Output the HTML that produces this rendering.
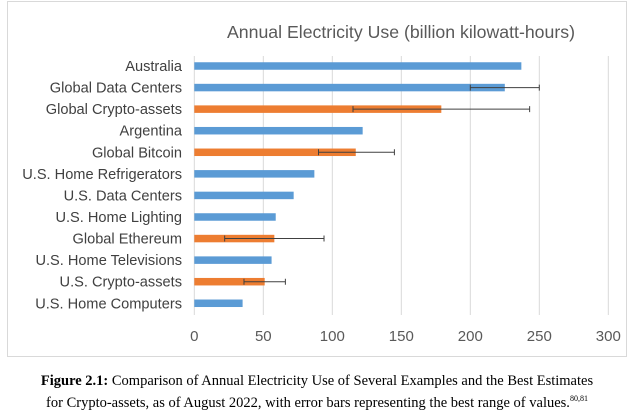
<!DOCTYPE html>
<html><head><meta charset="utf-8"><style>
body{margin:0;background:#fff;width:634px;height:417px;overflow:hidden;font-family:"Liberation Sans",sans-serif}
#frame{position:absolute;left:7px;top:1px;width:620px;height:356px;border:1px solid #d9d9d9;box-sizing:border-box}
#cap{position:absolute;left:0;top:372px;width:634px;text-align:center;font-family:"Liberation Serif",serif;font-size:14.5px;line-height:18px;color:#000}
sup{font-size:8px}
</style></head><body>
<div id="frame"></div>
<svg id="chart" width="634" height="360" style="position:absolute;left:0;top:0">
<text x="401" y="38" text-anchor="middle" font-size="17.7" fill="#595959">Annual Electricity Use (billion kilowatt-hours)</text>
</svg>
<div id="cap"><b>Figure 2.1:</b> Comparison of Annual Electricity Use of Several Examples and the Best Estimates<br>for Crypto-assets, as of August 2022, with error bars representing the best range of values.<sup>80,81</sup></div>
<script>
const categories=["Australia","Global Data Centers","Global Crypto-assets","Argentina","Global Bitcoin","U.S. Home Refrigerators","U.S. Data Centers","U.S. Home Lighting","Global Ethereum","U.S. Home Televisions","U.S. Crypto-assets","U.S. Home Computers"];
const values=[237,225,179,122,117,87,72,59,58,56,51,35];
const isCrypto=[false,false,true,false,true,false,false,false,true,false,true,false];
const errLow=[null,200,115,null,90,null,null,null,22,null,36,null];
const errHigh=[null,250,243,null,145,null,null,null,94,null,66,null];
const ticks=[0,50,100,150,200,250,300];
const NS="http://www.w3.org/2000/svg";
const svg=document.getElementById('chart');
const x0=194.3,pxPer=1.38,y0=66,step=21.57,bh=7.5;
const xs=v=>x0+v*pxPer, ys=i=>y0+i*step;
function mk(t,a){const e=document.createElementNS(NS,t);for(const k in a)e.setAttribute(k,a[k]);svg.appendChild(e);return e;}
ticks.forEach(t=>{
 const g=mk('line',{x1:xs(t),x2:xs(t),y1:56,y2:315,stroke:'#d9d9d9','stroke-width':1});
 
 
 const l=mk('text',{x:xs(t),y:341,'text-anchor':'middle','font-size':15,fill:'#595959'});
 l.textContent=t;
 
 
});
categories.forEach((c,i)=>{
 const y=ys(i);
 const r=mk('rect',{x:xs(0),y:y-bh/2,width:xs(values[i])-xs(0),height:bh,fill:isCrypto[i]?'#ed7d31':'#5b9bd5'});
 
 
 const l=mk('text',{x:182,y:y+5,'text-anchor':'end','font-size':14.6,fill:'#404040'});
 l.textContent=c;
 
 
 if(errLow[i]!==null){
  const a=xs(errLow[i]),b=xs(errHigh[i]);
  const e=mk('path',{d:`M${a},${y}H${b}M${a},${y-3}V${y+3}M${b},${y-3}V${y+3}`,stroke:'#404040','stroke-width':1,fill:'none'});
  
  
 }
});
</script>
</body></html>
